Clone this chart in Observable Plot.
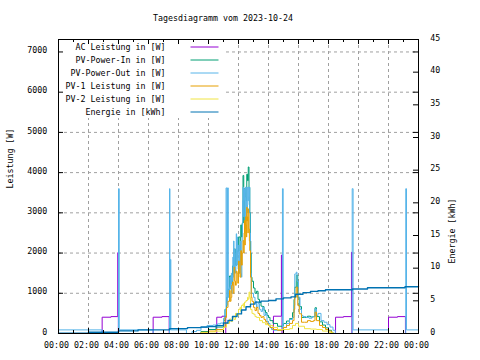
<!DOCTYPE html>
<html>
<head>
<meta charset="utf-8">
<script src="https://cdn.jsdelivr.net/npm/d3@7"></script>
<script src="https://cdn.jsdelivr.net/npm/@observablehq/plot@0.6"></script>
<style>
  body { margin: 0; background: #fff; }
  #title { height: 26px; box-sizing: border-box; padding-top: 13px; width: 446px; text-align: center;
           font: 8.3px/10px "DejaVu Sans Mono", monospace; color: #000; white-space: pre; }
  #chart svg { display: block; }
</style>
</head>
<body>
<div id="title">Tagesdiagramm vom 2023-10-24</div>
<div id="chart"></div>
<script>
// ---------- data (hours of day, W / kWh) ----------
const hourTicks = [0, 2, 4, 6, 8, 10, 12, 14, 16, 18, 20, 22, 24];
const xTickLabels = ["00:00","02:00","04:00","06:00","08:00","10:00","12:00","14:00","16:00","18:00","20:00","22:00","00:00"];
const minorHours = [1, 3, 5, 7, 9, 11, 13, 15, 17, 19, 21, 23];
const wattTicks = [0, 1000, 2000, 3000, 4000, 5000, 6000, 7000];
const kwhTicks = [0, 5, 10, 15, 20, 25, 30, 35, 40, 45];

const seriesNames = ["AC Leistung in [W]", "PV-Power-In in [W]", "PV-Power-Out in [W]",
                     "PV-1 Leistung in [W]", "PV-2 Leistung in [W]", "Energie in [kWh]"];
const seriesColors = ["#9400d3", "#009e73", "#56b4e9", "#e69f00", "#f0e442", "#0072b2"];

const acLeistung = [[0,0],[2.91,405],[3.5,420],[3.95,2010],[3.99,0],[6.31,405],[6.9,420],[7.38,0],
  [10.55,405],[10.9,430],[11.15,0],[14.33,430],[14.86,1950],[14.9,0],[18.47,405],[19.0,420],
  [19.53,2020],[19.56,0],[22.0,405],[22.6,420],[23.13,0],[24,0]];

const pvPowerIn = [[0,0],[9.0,0],[9.5,50],[10.0,100],[10.5,160],[11.0,320],[11.1,600],[11.2,900],[11.3,1100],
  [11.4,1430],[11.5,1250],[11.6,1680],[11.7,2100],[11.8,1700],[11.9,2050],[12.0,2400],[12.1,2050],[12.15,2700],
  [12.2,2400],[12.25,2750],[12.3,3930],[12.35,2750],[12.4,3600],[12.45,3400],[12.5,3300],[12.55,3960],[12.6,3800],
  [12.65,4140],[12.7,3630],[12.75,3000],[12.8,2000],[12.85,1400],[12.9,1300],[13.0,1130],[13.1,1000],[13.2,1050],
  [13.3,850],[13.4,770],[13.5,680],[13.6,670],[13.7,580],[13.8,520],[13.9,450],[14.0,400],[14.1,320],[14.3,250],
  [14.6,180],[14.9,190],[15.0,250],[15.2,310],[15.4,370],[15.6,520],[15.7,850],[15.75,1150],[15.85,1450],
  [15.95,900],[16.05,670],[16.2,400],[16.4,400],[16.6,430],[16.8,410],[17.0,420],[17.1,640],[17.2,420],
  [17.4,290],[17.6,210],[17.8,140],[18.0,80],[18.2,30],[18.3,0],[24,0]];

const pvPowerOut = [[0,90],[2.91,0],[4.0,3600],[4.05,90],[6.31,0],[7.4,3600],[7.43,90],[7.46,1840],[7.49,90],
  [8.53,0],[8.9,50],[9.2,80],[9.5,150],[9.9,200],[10.3,210],[10.6,240],[10.8,260],[11.0,380],[11.1,600],
  [11.17,3620],[11.22,700],[11.27,3620],[11.32,900],
  [11.4,1150],[11.425,1400],[11.45,1100],[11.475,1300],[11.5,1250],[11.525,1500],[11.55,1000],[11.575,1450],
  [11.6,1320],[11.625,1900],[11.65,1400],[11.675,2300],[11.7,1700],[11.725,1500],[11.75,2100],[11.775,1600],
  [11.8,1500],[11.825,2000],[11.85,2480],[11.875,1700],[11.9,1900],[11.925,2400],[11.95,2200],[11.975,1600],
  [12.0,1500],[12.025,2200],[12.05,2000],[12.075,1500],[12.1,1700],[12.125,2300],[12.15,1815],[12.175,1500],
  [12.2,1400],[12.225,2300],[12.25,2700],[12.275,3300],[12.3,3640],[12.325,3000],[12.35,2900],[12.375,3600],
  [12.4,3300],[12.425,2600],[12.45,3500],[12.475,3640],[12.5,2800],[12.525,3300],[12.55,3640],[12.575,3000],
  [12.6,3200],[12.625,3640],[12.65,3640],[12.675,3300],[12.7,3400],[12.725,3640],[12.75,3000],[12.775,2500],
  [12.8,2300],[12.825,1500],[12.85,990],[12.9,1000],
  [13.0,900],[13.1,800],[13.2,650],[13.3,750],[13.4,600],[13.5,550],[13.6,650],[13.7,450],[13.8,500],
  [13.9,300],[14.0,250],[14.1,150],[14.2,100],[14.33,80],[14.93,3600],[14.98,150],[15.2,250],[15.4,350],
  [15.6,400],[15.7,700],[15.75,1480],[15.85,1525],[15.9,1300],[16.0,900],[16.1,600],[16.2,450],[16.3,420],
  [16.5,400],[16.7,380],[16.9,420],[17.1,610],[17.2,450],[17.3,500],[17.5,320],[17.7,280],[17.9,220],
  [18.1,160],[18.3,80],[18.45,0],[19.58,3600],[19.64,90],[22.0,0],[23.15,3600],[23.2,90],[24,90]];

const pv1Leistung = [[0,0],[9.0,0],[9.5,30],[10.0,60],[10.5,100],[11.0,160],[11.1,400],[11.2,650],[11.3,800],
  [11.4,1070],[11.45,800],[11.5,900],[11.55,1200],[11.6,1280],[11.65,1000],[11.7,1650],[11.75,1300],[11.8,1200],
  [11.85,1550],[11.9,1500],[11.95,1250],[12.0,1800],[12.05,1500],[12.1,1400],[12.15,2060],[12.2,1700],
  [12.25,2000],[12.3,2310],[12.35,2000],[12.375,2500],[12.4,2810],[12.425,2200],[12.45,2500],[12.475,2900],
  [12.5,2700],[12.525,2400],[12.55,3140],[12.575,2800],[12.6,2900],[12.625,2500],[12.65,3100],[12.675,3000],
  [12.7,2600],[12.725,2300],[12.75,2060],[12.8,1400],[12.85,900],[12.9,800],[13.0,650],[13.1,570],[13.2,650],
  [13.3,500],[13.4,450],[13.5,400],[13.6,420],[13.7,350],[13.8,300],[13.9,240],[14.0,200],[14.1,150],[14.3,100],
  [14.6,80],[14.9,90],[15.0,150],[15.2,200],[15.4,250],[15.6,320],[15.7,600],[15.75,900],[15.85,1150],
  [15.95,700],[16.05,490],[16.2,280],[16.4,280],[16.6,320],[16.8,300],[17.0,320],[17.1,530],[17.2,320],
  [17.4,200],[17.6,150],[17.8,100],[18.0,60],[18.2,20],[18.3,0],[24,0]];

const pv2Leistung = [[0,0],[9.0,0],[9.5,20],[10.0,40],[10.5,60],[11.0,160],[11.2,250],[11.4,360],[11.5,300],
  [11.6,400],[11.7,350],[11.8,500],[11.9,450],[12.0,600],[12.1,650],[12.15,550],[12.2,700],[12.3,740],
  [12.35,650],[12.4,780],[12.5,820],[12.6,900],[12.65,850],[12.7,1030],[12.75,900],[12.8,600],[12.9,500],
  [13.0,480],[13.1,420],[13.2,400],[13.4,320],[13.6,270],[13.8,220],[14.0,200],[14.3,150],[14.6,100],
  [15.0,100],[15.4,120],[15.6,200],[15.8,250],[16.0,180],[16.4,120],[16.8,110],[17.2,100],[17.6,60],
  [18.0,20],[18.3,0],[24,0]];

const energieKWh = [[0,0.05],[2.0,0.2],[4.0,0.4],[5.3,0.55],[7.4,0.75],[8.6,0.9],[9.5,1.0],[10.0,1.05],
  [10.5,1.2],[11.0,1.6],[11.3,2.0],[11.6,2.6],[11.9,3.0],[12.2,3.6],[12.5,4.1],[12.8,4.5],[13.1,4.8],
  [13.5,4.95],[14.0,5.05],[14.5,5.3],[15.0,5.45],[15.5,5.6],[15.8,6.0],[16.3,6.25],[16.8,6.45],[17.3,6.55],
  [17.8,6.7],[19.6,6.8],[20.6,7.0],[23.1,7.15],[24,7.2]];

const powerSeries = [acLeistung, pvPowerIn, pvPowerOut, pv1Leistung, pv2Leistung];

// ---------- layout ----------
const W_MAX = 7310, KWH_MAX = 45;
const K = W_MAX / KWH_MAX;              // W per kWh on the shared vertical scale
const FRAME_TOP = 39, FRAME_BOTTOM = 333, FRAME_LEFT = 58, PX_PER_H = 15;
const yToW = yPage => (FRAME_BOTTOM - yPage) / (FRAME_BOTTOM - FRAME_TOP) * W_MAX;
const xToH = xPage => (xPage - FRAME_LEFT) / PX_PER_H;

const legendRows = seriesNames.map((name, i) => ({name, color: seriesColors[i], w: yToW(46.5 + 13 * i)}));
const grid = {stroke: "#a0a0a0", strokeDasharray: "3,3", strokeWidth: 1};

const marks = [
  Plot.ruleX(hourTicks.slice(1, -1), grid),
  Plot.ruleY(wattTicks.slice(1), grid),
  Plot.rect([0], {x1: 0, x2: xToH(223), y1: yToW(118), y2: W_MAX, fill: "white"}),
  ...powerSeries.map((s, i) => Plot.line(s, {x: d => d[0], y: d => d[1], stroke: seriesColors[i],
      strokeWidth: 1, curve: "step-after"})),
  Plot.line(energieKWh, {x: d => d[0], y: d => d[1] * K, stroke: seriesColors[5], strokeWidth: 1.4,
      curve: "step-after"}),
  // legend
  Plot.text(legendRows, {x: xToH(165), y: "w", text: "name", textAnchor: "end", fill: "black"}),
  Plot.link(legendRows, {x1: xToH(190), x2: xToH(218), y1: "w", y2: "w", stroke: "color", strokeWidth: 1}),
  // tick marks (inward, gnuplot style)
  Plot.tickX(hourTicks, {x: d => d, insetTop: 289, stroke: "black"}),
  Plot.tickX(hourTicks, {x: d => d, insetBottom: 289, stroke: "black"}),
  Plot.tickX(minorHours, {x: d => d, insetTop: 291, stroke: "black"}),
  Plot.tickX(minorHours, {x: d => d, insetBottom: 291, stroke: "black"}),
  Plot.tickY(wattTicks, {y: d => d, insetRight: 355, stroke: "black"}),
  Plot.tickY(wattTicks, {y: d => d, insetLeft: 355, stroke: "black"}),
  Plot.tickY(kwhTicks.map(v => v * K), {y: d => d, insetLeft: 355, stroke: "black"}),
  // axes
  Plot.axisX(hourTicks, {anchor: "bottom", tickSize: 0, tickPadding: 8.5, dx: -2, label: null,
      tickFormat: d => xTickLabels[hourTicks.indexOf(d)], fill: "black"}),
  Plot.axisY(wattTicks, {anchor: "left", tickSize: 0, tickPadding: 11.3, dy: -1.5, label: null,
      tickFormat: d => String(d), fill: "black"}),
  Plot.axisY(kwhTicks.map(v => v * K), {anchor: "right", tickSize: 0, tickPadding: 11.7, dy: -1.5, label: null,
      tickFormat: d => String(Math.round(d / K)), fill: "black"}),
  Plot.text(["Leistung [W]"], {frameAnchor: "left", rotate: -90, dx: -48, dy: 2, text: d => d, fill: "black"}),
  Plot.text(["Energie [kWh]"], {frameAnchor: "right", rotate: -90, dx: 33.5, dy: 12, text: d => d, fill: "black"}),
  Plot.frame({stroke: "black"})
];

const chart = Plot.plot({
  width: 480,
  height: 334,
  marginTop: 13,
  marginBottom: 27,
  marginLeft: 58,
  marginRight: 62,
  x: {domain: [0, 24]},
  y: {domain: [0, W_MAX]},
  style: {fontFamily: "'DejaVu Sans Mono', monospace", fontSize: "8.3px", color: "black", background: "white"},
  marks
});
document.getElementById("chart").appendChild(chart);
</script>
</body>
</html>
